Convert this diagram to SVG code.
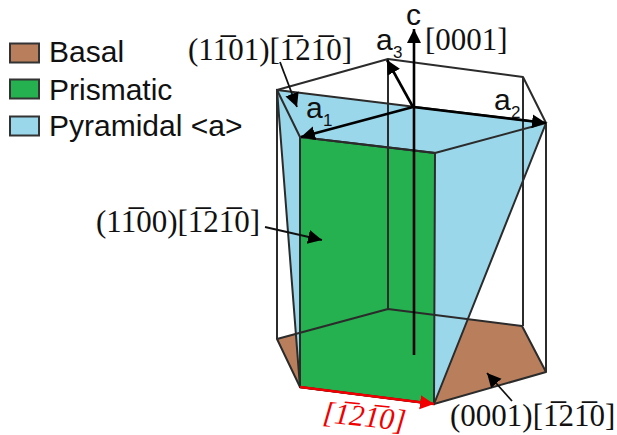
<svg xmlns="http://www.w3.org/2000/svg" width="617" height="435" viewBox="0 0 617 435">
<style>
.sw{stroke:#333;stroke-width:2}
.s{font-family:"Liberation Sans",Arial,sans-serif;fill:#111;font-size:30px}
.sub{font-family:"Liberation Sans",Arial,sans-serif;fill:#111;font-size:17px}
.m{font-family:"Liberation Serif","DejaVu Serif",serif;fill:#111;font-size:31px}
.e{fill:none;stroke:#2b2b2b;stroke-width:2;stroke-linejoin:round}
.ax{fill:none;stroke:#000;stroke-width:2.6}
.p{fill:none;stroke:#111;stroke-width:1.8}
</style>
<defs>
<marker id="ah" markerUnits="userSpaceOnUse" markerWidth="18" markerHeight="16" refX="14" refY="7" orient="auto"><path d="M0 0L14 7L0 14Z" fill="#000"/></marker>
<marker id="ar" markerUnits="userSpaceOnUse" markerWidth="18" markerHeight="16" refX="14" refY="7" orient="auto"><path d="M0 0L14 7L0 14Z" fill="#f00000"/></marker>
</defs>
<g id="legend">
<rect class="sw" x="10" y="43.500" width="29" height="19" fill="#b97f5c"/>
<rect class="sw" x="10" y="79.500" width="29" height="19" fill="#25b14f"/>
<rect class="sw" x="10" y="116.500" width="29" height="19" fill="#9bd7ea"/>
<text class="s" x="49" y="62">Basal</text>
<text class="s" x="49" y="100">Prismatic</text>
<text class="s" x="49" y="136">Pyramidal &lt;a&gt;</text>
</g>
<g id="basal"><path d="M277 339L388 309L522 326L546 372L434 404L300 387Z" fill="#b97f5c"/></g>
<g id="pyramidal"><path d="M277 90L546 123L434 404L300 387Z" fill="#9bd7ea" stroke="#2b2b2b" stroke-width="2"/></g>
<g id="prismatic"><path d="M300 137L435 153L434 404L300 387Z" fill="#25b14f" stroke="#2b2b2b" stroke-width="2"/></g>
<g id="connectors">
<path class="e" d="M277 90L388 59L523 77L546 123L435 153L300 137Z"/>
<path class="e" d="M277 339L388 309L522 326L546 372L434 404L300 387Z"/>
<path class="e" d="M277 90V339M388 59V309M523 77V326M546 123V372"/>
<path class="ax" d="M414 355V29" marker-end="url(#ah)"/>
<path class="ax" d="M413 107L301 137" marker-end="url(#ah)"/>
<path class="ax" d="M413 107L546 123" marker-end="url(#ah)"/>
<path class="ax" d="M413 107L387 60" marker-end="url(#ah)"/>
<path class="p" d="M280 62L297 107" marker-end="url(#ah)"/>
<path class="p" d="M265 227L322 240" marker-end="url(#ah)"/>
<path class="p" d="M512 401L487 373" marker-end="url(#ah)"/>
<path d="M300 387L434 404" fill="none" stroke="#f00000" stroke-width="2.600" marker-end="url(#ar)"/>
</g>
<g id="labels">
<text class="s" x="406" y="25">c</text>
<text class="s" x="376" y="50">a</text><text class="sub" x="393" y="58">3</text>
<text class="s" x="494" y="110">a</text><text class="sub" x="511" y="118">2</text>
<text class="s" x="306" y="118">a</text><text class="sub" x="323" y="126">1</text>
<text class="m" x="425" y="50">[0001]</text>
<text class="m" x="188" y="60">(11&#773;01)[1&#773;21&#773;0]</text>
<text class="m" x="96" y="232">(11&#773;00)[1&#773;21&#773;0]</text>
<text class="m" x="450" y="426">(0001)[1&#773;21&#773;0]</text>
<text class="m" x="322" y="422" font-style="italic" style="fill:#f00000;font-size:30px" transform="rotate(6 322 422)">[1&#773;21&#773;0]</text>
</g>
</svg>
